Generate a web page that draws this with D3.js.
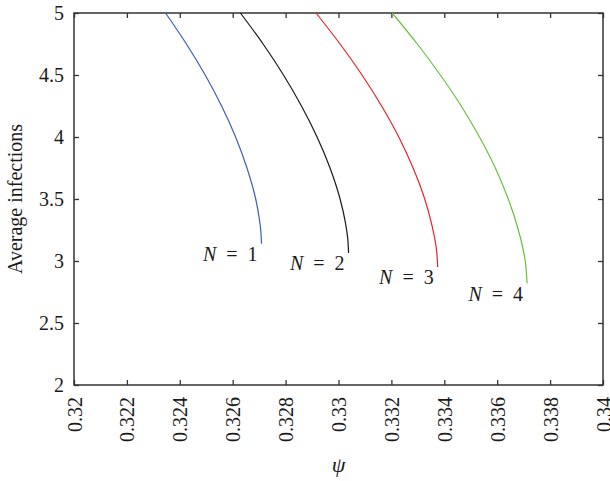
<!DOCTYPE html>
<html>
<head>
<meta charset="utf-8">
<script src="https://cdn.jsdelivr.net/npm/d3@7"></script>
<style>
  body { margin: 0; background: #fff; }
  svg text { font-family: "Liberation Serif", "DejaVu Serif", serif !important; fill: #1a1a1a; }
</style>
</head>
<body>
<div id="chart"></div>
<script>
// axis ticks
var psiTicks = [0.32, 0.322, 0.324, 0.326, 0.328, 0.33, 0.332, 0.334, 0.336, 0.338, 0.34];
var avgTicks = [2, 2.5, 3, 3.5, 4, 4.5, 5];

// curves (psi, average infections)
var psi1 = [0.32346, 0.32425, 0.32496, 0.32558, 0.32611, 0.32654, 0.32687, 0.32700, 0.32706, 0.32709];
var avg1 = [5.0, 4.75, 4.5, 4.25, 4.0, 3.75, 3.5, 3.35, 3.25, 3.139];

var psi2 = [0.32629, 0.32715, 0.32792, 0.32860, 0.32919, 0.32968, 0.33006, 0.33027, 0.33035, 0.33038];
var avg2 = [5.0, 4.75, 4.5, 4.25, 4.0, 3.75, 3.5, 3.3, 3.18, 3.064];

var psi3 = [0.32915, 0.33006, 0.33089, 0.33163, 0.33228, 0.33282, 0.33326, 0.33352, 0.33370, 0.33375];
var avg3 = [5.0, 4.75, 4.5, 4.25, 4.0, 3.75, 3.5, 3.3, 3.1, 2.952];

var psi4 = [0.33203, 0.33298, 0.33385, 0.33464, 0.33533, 0.33593, 0.33642, 0.33680, 0.33706, 0.33713];
var avg4 = [5.0, 4.75, 4.5, 4.25, 4.0, 3.75, 3.5, 3.25, 3.0, 2.818];

var labelN = ["1", "2", "3", "4"];
var colors = ["#3f5fb4", "#1a1a1a", "#e8232b", "#6cbf3e"];

var series = [
  {psi: psi1, avg: avg1},
  {psi: psi2, avg: avg2},
  {psi: psi3, avg: avg3},
  {psi: psi4, avg: avg4}
];

var svgWidth = 610, svgHeight = 481;
var margin = {top: 13, right: 7, bottom: 96, left: 74};
var width = svgWidth - margin.left - margin.right;
var height = svgHeight - margin.top - margin.bottom;

var svg = d3.select("#chart").append("svg")
  .attr("width", svgWidth)
  .attr("height", svgHeight);

var chartGroup = svg.append("g")
  .attr("transform", `translate(${margin.left}, ${margin.top})`);

var xScale = d3.scaleLinear().domain([0.32, 0.34]).range([0, width]);
var yScale = d3.scaleLinear().domain([2, 5]).range([height, 0]);

var tickLen = 5;

// bottom axis, ticks pointing inward, rotated labels
var xAxis = d3.axisBottom(xScale).tickValues(psiTicks).tickSizeInner(-tickLen).tickSizeOuter(0)
  .tickFormat(d => String(+d.toFixed(3)));
var gx = chartGroup.append("g")
  .attr("transform", `translate(0, ${height})`)
  .call(xAxis);
gx.selectAll("text")
  .attr("transform", "rotate(-90)")
  .attr("text-anchor", "end")
  .attr("x", -12)
  .attr("y", 0)
  .attr("dy", "0.35em")
  .style("font-size", "20px");

// top axis ticks only
chartGroup.append("g")
  .call(d3.axisTop(xScale).tickValues(psiTicks).tickSizeInner(-tickLen).tickSizeOuter(0).tickFormat(""));

// left axis
var yAxis = d3.axisLeft(yScale).tickValues(avgTicks).tickSizeInner(-tickLen).tickSizeOuter(0)
  .tickFormat(d => String(d));
var gy = chartGroup.append("g").call(yAxis);
gy.selectAll("text")
  .attr("x", -10)
  .style("font-size", "20px");

// right axis ticks only
chartGroup.append("g")
  .attr("transform", `translate(${width}, 0)`)
  .call(d3.axisRight(yScale).tickValues(avgTicks).tickSizeInner(-tickLen).tickSizeOuter(0).tickFormat(""));

chartGroup.selectAll(".domain").remove();
chartGroup.selectAll(".tick line").attr("stroke", "#333").attr("stroke-width", 1.3);

// frame
chartGroup.append("rect")
  .attr("width", width)
  .attr("height", height)
  .attr("fill", "none")
  .attr("stroke", "#333")
  .attr("stroke-width", 1.5);

var line = d3.line()
  .x(d => xScale(d[0]))
  .y(d => yScale(d[1]))
  .curve(d3.curveMonotoneY);

series.forEach(function(s, i) {
  var pts = s.psi.map((p, j) => [p, s.avg[j]]);
  chartGroup.append("path")
    .datum(pts)
    .attr("d", line)
    .attr("fill", "none")
    .attr("stroke", colors[i])
    .attr("stroke-width", 1.2);

  var last = pts[pts.length - 1];
  var t = chartGroup.append("text")
    .attr("x", xScale(last[0]) - 4)
    .attr("y", yScale(last[1]) + 17)
    .attr("text-anchor", "end")
    .style("font-size", "20px");
  t.append("tspan").style("font-style", "italic").text("N");
  t.append("tspan").text("\u2002=\u2002" + labelN[i]);
});

// axis titles
svg.append("text")
  .attr("transform", `translate(22, ${margin.top + height / 2}) rotate(-90)`)
  .attr("text-anchor", "middle")
  .style("font-size", "20px")
  .text("Average infections");

svg.append("text")
  .attr("x", margin.left + width / 2)
  .attr("y", 472)
  .attr("text-anchor", "middle")
  .style("font-size", "22px")
  .style("font-style", "italic")
  .text("ψ");
</script>
</body>
</html>
